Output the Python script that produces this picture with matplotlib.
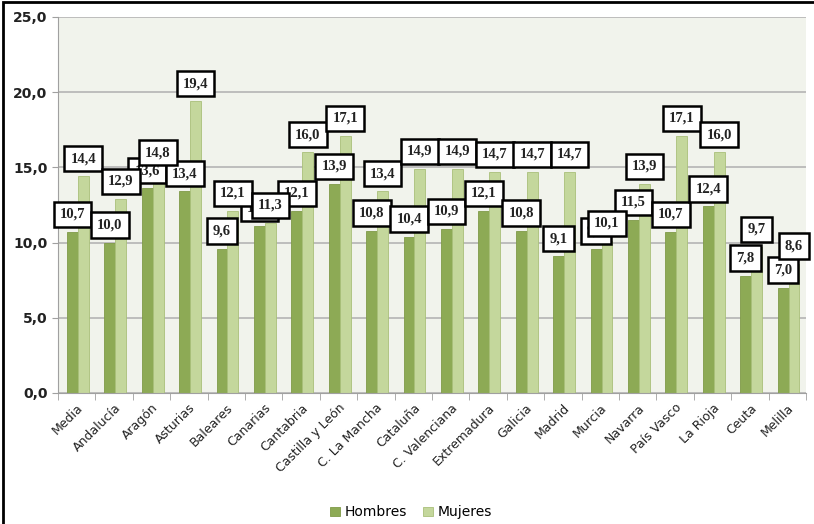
import numpy as np
import matplotlib.pyplot as plt
from matplotlib.patches import Rectangle

# datos
regiones = ['Media', 'Andalucía', 'Aragón', 'Asturias', 'Baleares', 'Canarias',
            'Cantabria', 'Castilla y León', 'C. La Mancha', 'Cataluña',
            'C. Valenciana', 'Extremadura', 'Galicia', 'Madrid', 'Murcia',
            'Navarra', 'País Vasco', 'La Rioja', 'Ceuta', 'Melilla']
hombres = [10.7, 10.0, 13.6, 13.4, 9.6, 11.1, 12.1, 13.9, 10.8, 10.4,
           10.9, 12.1, 10.8, 9.1, 9.6, 11.5, 10.7, 12.4, 7.8, 7.0]
mujeres = [14.4, 12.9, 14.8, 19.4, 12.1, 11.3, 16.0, 17.1, 13.4, 14.9,
           14.9, 14.7, 14.7, 14.7, 10.1, 13.9, 17.1, 16.0, 9.7, 8.6]

c_hom = '#8daa55'
c_muj = '#c4d79c'

fig = plt.figure(figsize=(8.14, 5.24), dpi=100)
ax = fig.add_axes([0.0713, 0.25, 0.919, 0.7176])
ax.set_facecolor('#f1f3ec')

x = np.arange(len(regiones))
w = 0.29
ax.bar(x - w/2 + 0.03, hombres, w, color=c_hom, edgecolor='#7f9a48', linewidth=0.6,
       label='Hombres', zorder=2)
ax.bar(x + w/2 + 0.03, mujeres, w, color=c_muj, edgecolor='#a9c07a', linewidth=0.6,
       label='Mujeres', zorder=2)

def fmt(v):
    return f'{v:.1f}'.replace('.', ',')

box = dict(boxstyle='square,pad=0.42', fc='white', ec='black', lw=1.8)
for serie, dx, z in [(hombres, -w/2 + 0.03, 5), (mujeres, w/2 + 0.03, 6)]:
    for xi, v in zip(x, serie):
        ax.annotate(fmt(v), (xi + dx, v), xytext=(0, 8), textcoords='offset points',
                    ha='center', va='bottom', fontsize=10.5, fontweight='bold',
                    family='Liberation Serif', color='#222222', bbox=box,
                    zorder=z, annotation_clip=False)

ax.set_xlim(-0.5, len(regiones) - 0.5)
ax.set_ylim(0, 25)
ax.set_yticks(np.arange(0, 26, 5))
ax.set_yticklabels([fmt(v) for v in np.arange(0, 26, 5)], fontsize=10,
                   fontweight='bold', color='#222222')
ax.yaxis.grid(True, color='#b4b4b4', linewidth=1.2, zorder=0)
ax.set_axisbelow(True)

ax.set_xticks(x)
ax.set_xticklabels(regiones, rotation=45, ha='right', rotation_mode='anchor',
                   fontsize=9, color='#222222')
ax.set_xticks(np.arange(-0.5, len(regiones)), minor=True)
ax.tick_params(axis='x', which='major', length=0, pad=6)
ax.tick_params(axis='x', which='minor', length=5, color='#a0a0a0')
ax.tick_params(axis='y', length=4, color='#a0a0a0')

for s in ['top', 'right']:
    ax.spines[s].set_visible(False)
ax.spines['left'].set_color('#a0a0a0')
ax.spines['bottom'].set_color('#a0a0a0')

fig.legend(loc='lower center', bbox_to_anchor=(0.505, -0.015), ncol=2, frameon=False,
           fontsize=10, handlelength=0.7, handleheight=0.7, handletextpad=0.3,
           columnspacing=1.2)

# marco exterior
fig.add_artist(Rectangle((0.0035, -0.1), 1.2, 1.096, transform=fig.transFigure,
                         fill=False, ec='black', lw=2, clip_on=False))

fig.savefig('out.png', dpi=100)
